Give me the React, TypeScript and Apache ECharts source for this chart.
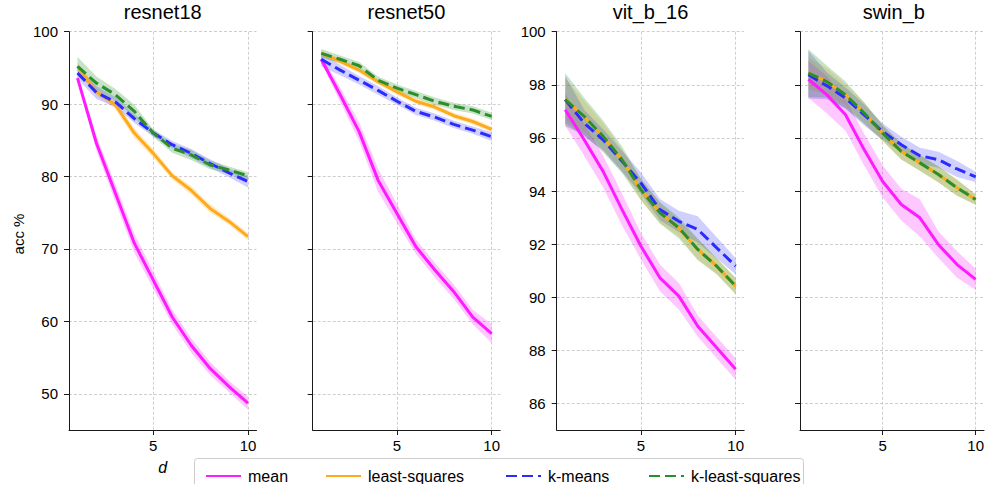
import React, { useEffect, useRef } from "react";
import * as echarts from "echarts";

const D = [1, 2, 3, 4, 5, 6, 7, 8, 9, 10];
const PANELS = ["resnet18", "resnet50", "vit_b_16", "swin_b"];
const METHODS = ["mean", "least-squares", "k-means", "k-least-squares"];

// resnet18
const r18Mean = [93.6, 84.6, 77.7, 70.8, 65.7, 60.6, 56.7, 53.5, 51.0, 48.7];
const r18Ls = [95.2, 91.7, 89.9, 86.0, 83.2, 80.1, 78.1, 75.6, 73.8, 71.7];
const r18Km = [94.3, 91.6, 90.3, 88.0, 86.0, 84.4, 83.2, 81.8, 80.5, 79.3];
const r18Kls = [95.2, 92.9, 91.3, 89.0, 86.0, 83.9, 83.0, 81.6, 80.9, 80.1];
const r18MeanSd = [0.4, 1.0, 1.2, 1.3, 1.2, 1.0, 1.0, 0.9, 0.8, 0.9];
const r18LsSd = [0.5, 0.5, 0.6, 0.7, 0.6, 0.5, 0.6, 0.6, 0.5, 0.5];
const r18KmSd = [0.8, 0.9, 0.7, 0.6, 0.5, 0.5, 0.6, 0.6, 0.6, 0.8];
const r18KlsSd = [1.3, 0.9, 0.8, 0.9, 0.5, 0.6, 0.7, 0.6, 0.5, 0.5];

// resnet50
const r50Mean = [96.2, 91.3, 86.2, 79.5, 74.9, 70.3, 67.1, 64.1, 60.6, 58.3];
const r50Ls = [97.0, 95.9, 94.7, 93.1, 91.7, 90.4, 89.6, 88.4, 87.6, 86.5];
const r50Km = [96.2, 94.7, 93.3, 91.9, 90.4, 89.0, 88.2, 87.2, 86.4, 85.5];
const r50Kls = [97.0, 96.2, 95.3, 93.3, 92.2, 91.3, 90.4, 89.7, 89.2, 88.3];
const r50MeanSd = [0.5, 1.0, 1.3, 1.6, 1.3, 1.0, 1.0, 1.0, 1.0, 1.3];
const r50LsSd = [0.4, 0.4, 0.4, 0.4, 0.4, 0.4, 0.4, 0.4, 0.4, 0.4];
const r50KmSd = [1.0, 0.7, 0.6, 0.6, 0.5, 0.5, 0.5, 0.5, 0.5, 0.6];
const r50KlsSd = [0.6, 0.5, 0.5, 0.5, 0.5, 0.5, 0.5, 0.5, 0.5, 0.5];

// vit_b_16
const vitMean = [97.06, 95.93, 94.74, 93.3, 91.92, 90.73, 90.04, 88.91, 88.1, 87.29];
const vitLs = [97.45, 96.8, 96.05, 95.17, 94.05, 93.18, 92.6, 91.8, 91.17, 90.41];
const vitKm = [97.44, 96.56, 95.93, 95.12, 94.3, 93.3, 92.86, 92.55, 91.86, 91.17];
const vitKls = [97.44, 96.81, 96.06, 95.18, 94.05, 93.18, 92.61, 91.8, 91.17, 90.42];
const vitMeanSd = [0.6, 0.6, 0.6, 0.6, 0.5, 0.5, 0.5, 0.4, 0.4, 0.4];
const vitLsSd = [0.8, 0.6, 0.5, 0.4, 0.4, 0.4, 0.3, 0.4, 0.3, 0.3];
const vitKmSd = [0.9, 0.5, 0.4, 0.4, 0.4, 0.4, 0.4, 0.5, 0.4, 0.3];
const vitKlsSd = [1.0, 0.7, 0.6, 0.5, 0.4, 0.4, 0.4, 0.4, 0.3, 0.3];

// swin_b
const swinMean = [98.21, 97.62, 96.87, 95.56, 94.36, 93.49, 92.99, 91.98, 91.23, 90.67];
const swinLs = [98.44, 98.12, 97.62, 96.94, 96.18, 95.49, 95.06, 94.62, 94.12, 93.68];
const swinKm = [98.38, 97.96, 97.5, 96.87, 96.24, 95.74, 95.33, 95.18, 94.83, 94.53];
const swinKls = [98.44, 98.12, 97.62, 96.94, 96.18, 95.49, 95.06, 94.62, 94.12, 93.68];
const swinMeanSd = [0.7, 0.7, 0.6, 0.6, 0.6, 0.6, 0.7, 0.5, 0.5, 0.4];
const swinLsSd = [0.6, 0.5, 0.4, 0.4, 0.3, 0.3, 0.3, 0.3, 0.3, 0.2];
const swinKmSd = [0.9, 0.5, 0.4, 0.4, 0.3, 0.3, 0.3, 0.3, 0.3, 0.2];
const swinKlsSd = [0.9, 0.6, 0.5, 0.4, 0.3, 0.3, 0.3, 0.3, 0.3, 0.2];

const X_TICKS = [5, 10];
const Y_TICKS_RES = [50, 60, 70, 80, 90, 100];
const Y_TICKS_VIT = [86, 88, 90, 92, 94, 96, 98, 100];

const PANEL_DATA = [
  { means: [r18Mean, r18Ls, r18Km, r18Kls], sds: [r18MeanSd, r18LsSd, r18KmSd, r18KlsSd] },
  { means: [r50Mean, r50Ls, r50Km, r50Kls], sds: [r50MeanSd, r50LsSd, r50KmSd, r50KlsSd] },
  { means: [vitMean, vitLs, vitKm, vitKls], sds: [vitMeanSd, vitLsSd, vitKmSd, vitKlsSd] },
  { means: [swinMean, swinLs, swinKm, swinKls], sds: [swinMeanSd, swinLsSd, swinKmSd, swinKlsSd] },
];

const LINE_COLORS = ["#ff1aff", "#ffaa1a", "#2b2bff", "#2a8f2a"];
const BAND_COLORS = [
  "rgba(255,0,255,0.22)",
  "rgba(255,165,0,0.22)",
  "rgba(40,40,255,0.22)",
  "rgba(34,139,34,0.25)",
];
const DASHED = [false, false, true, true];

const FONT = "'Liberation Sans', Arial, Helvetica, sans-serif";

const GRID_LEFTS = [69, 312.7, 556.7, 800];
const GRID_W = 187.5;
const GRID_TOP = 31.7;
const GRID_H = 398.3;

export default function App() {
  const ref = useRef<HTMLDivElement>(null);
  useEffect(() => {
    if (!ref.current) return;
    const chart = echarts.init(ref.current, undefined, { renderer: "svg" });

    const grids = GRID_LEFTS.map((l) => ({ left: l, top: GRID_TOP, width: GRID_W, height: GRID_H }));
    const splitStyle = { show: true, lineStyle: { color: "#c2c2c2", type: [3, 2], width: 0.8 } };
    const axisLine = { show: true, onZero: false, lineStyle: { color: "#1a1a1a", width: 1 } };

    const xAxes = PANELS.map((_, i) => ({
      type: "value",
      gridIndex: i,
      min: 0.55,
      max: 10.45,
      axisLine,
      axisTick: { show: true, length: 5, customValues: X_TICKS, lineStyle: { color: "#1a1a1a" } },
      axisLabel: { show: true, customValues: X_TICKS, fontSize: 15, fontFamily: FONT, color: "#000", margin: 8 },
      splitLine: splitStyle,
    }));
    const yAxes = PANELS.map((_, i) => {
      const res = i < 2;
      return {
        type: "value",
        gridIndex: i,
        min: res ? 45 : 85,
        max: 100,
        axisLine,
        axisTick: { show: true, length: 5, customValues: res ? Y_TICKS_RES : Y_TICKS_VIT, lineStyle: { color: "#1a1a1a" } },
        axisLabel: {
          show: i === 0 || i === 2,
          customValues: res ? Y_TICKS_RES : Y_TICKS_VIT,
          fontSize: 15,
          fontFamily: FONT,
          color: "#000",
          margin: 11,
        },
        splitLine: splitStyle,
      };
    });

    const series: any[] = [];
    PANEL_DATA.forEach((pd, p) => {
      pd.means.forEach((vals, m) => {
        const sd = pd.sds[m];
        const color = BAND_COLORS[m];
        series.push({
          type: "custom",
          name: METHODS[m] + " band",
          xAxisIndex: p,
          yAxisIndex: p,
          z: 1,
          silent: true,
          encode: { x: 0, y: [1, 2] },
          data: D.map((d, i) => [d, vals[i] - sd[i], vals[i] + sd[i]]),
          renderItem: (params: any, api: any) => {
            if (params.dataIndexInside !== 0) return null;
            const n = params.dataInsideLength;
            const up: number[][] = [];
            const lo: number[][] = [];
            for (let i = 0; i < n; i++) {
              const x = api.value(0, i);
              lo.push(api.coord([x, api.value(1, i)]));
              up.push(api.coord([x, api.value(2, i)]));
            }
            return {
              type: "polygon",
              shape: { points: up.concat(lo.reverse()) },
              style: { fill: color, stroke: "none" },
            };
          },
        });
      });
      pd.means.forEach((vals, m) => {
        series.push({
          type: "line",
          name: METHODS[m],
          xAxisIndex: p,
          yAxisIndex: p,
          z: 2 + m,
          symbol: "none",
          showSymbol: false,
          data: D.map((d, i) => [d, vals[i]]),
          lineStyle: { color: LINE_COLORS[m], width: 3, type: DASHED[m] ? [11, 5] : "solid" },
          itemStyle: { color: LINE_COLORS[m] },
        });
      });
    });

    const legendX = [200, 320, 500, 643];
    const legends = METHODS.map((name, m) => ({
      data: [name],
      left: legendX[m],
      top: 463,
      itemWidth: 35,
      itemHeight: 14,
      itemGap: 0,
      selectedMode: false,
      itemStyle: { opacity: 0 },
      textStyle: { fontSize: 16, fontFamily: FONT, color: "#000", padding: [0, 0, 0, 2] },
    }));

    const titleCenters = GRID_LEFTS.map((l) => l + GRID_W / 2);
    const graphics: any[] = titleCenters.map((cx, i) => ({
      type: "text",
      x: cx,
      y: 12,
      style: {
        text: PANELS[i],
        fontSize: 20,
        fontFamily: FONT,
        fill: "#000",
        align: "center",
        verticalAlign: "middle",
      },
    }));
    graphics.push({
      type: "text",
      x: 18,
      y: 234,
      rotation: Math.PI / 2,
      style: {
        text: "acc %",
        fontSize: 15,
        fontFamily: FONT,
        fill: "#000",
        align: "center",
        verticalAlign: "middle",
      },
    });
    graphics.push({
      type: "text",
      x: titleCenters[0],
      y: 467,
      style: {
        text: "d",
        fontSize: 16,
        fontStyle: "italic",
        fontFamily: FONT,
        fill: "#000",
        align: "center",
        verticalAlign: "middle",
      },
    });
    graphics.push({
      type: "rect",
      z: -1,
      shape: { x: 194.5, y: 458.5, width: 609, height: 40, r: 3 },
      style: { fill: "#fff", stroke: "#cccccc", lineWidth: 1 },
    });

    chart.setOption({
      animation: false,
      backgroundColor: "#fff",
      grid: grids,
      xAxis: xAxes,
      yAxis: yAxes,
      series,
      legend: legends,
      graphic: graphics,
    });
    return () => chart.dispose();
  }, []);
  return (
    <div
      ref={ref}
      style={{ position: "fixed", left: 0, top: 0, width: 987, height: 484, background: "#fff" }}
    />
  );
}
